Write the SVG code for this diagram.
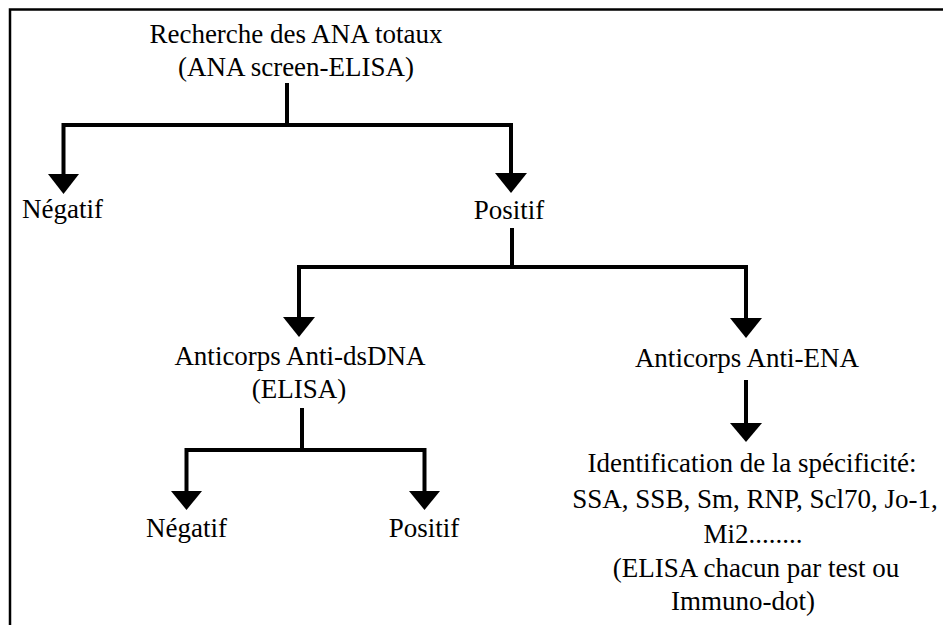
<svg xmlns="http://www.w3.org/2000/svg" width="943" height="625" viewBox="0 0 943 625">
<style>
  text { font-family: "Liberation Serif", "Times New Roman", serif; font-size: 27px; fill: #000; text-anchor: middle; }
  .ln { fill: none; stroke: #000; stroke-width: 4; stroke-linecap: butt; stroke-linejoin: miter; }
  .hd { fill: #000; stroke: none; }
  .frame { fill: none; stroke: #000; stroke-width: 2.5; }
</style>
<rect x="0" y="0" width="943" height="625" fill="#fff"/>
<path class="frame" d="M10,625 V9.5 H943"/>

<g id="connectors">
  <path class="ln" d="M287,83 V125"/>
  <path class="ln" d="M63.5,176 V125 H511 V175"/>
  <polygon class="hd" points="48,174 79,174 63.5,194"/>
  <polygon class="hd" points="495,173 527,173 511,193"/>

  <path class="ln" d="M512,228 V267"/>
  <path class="ln" d="M299,319 V267 H746 V320"/>
  <polygon class="hd" points="283,317 315,317 299,337"/>
  <polygon class="hd" points="730,318 762,318 746,338"/>

  <path class="ln" d="M302,408 V450"/>
  <path class="ln" d="M186.5,493 V450 H424.5 V493"/>
  <polygon class="hd" points="171,491 202,491 186.5,510"/>
  <polygon class="hd" points="409,491 440,491 424.5,510"/>

  <path class="ln" d="M746,380 V425"/>
  <polygon class="hd" points="730,423 762,423 746,442"/>
</g>

<g id="node-ana-totaux">
  <text x="296" y="43">Recherche des ANA totaux</text>
  <text x="296" y="76">(ANA screen-ELISA)</text>
</g>
<g id="node-negatif-1">
  <text x="62.5" y="218">Négatif</text>
</g>
<g id="node-positif-1">
  <text x="509" y="219">Positif</text>
</g>
<g id="node-anti-dsdna">
  <text x="300" y="365">Anticorps Anti-dsDNA</text>
  <text x="299" y="398">(ELISA)</text>
</g>
<g id="node-anti-ena">
  <text x="747" y="367">Anticorps Anti-ENA</text>
</g>
<g id="node-negatif-2">
  <text x="186.5" y="537">Négatif</text>
</g>
<g id="node-positif-2">
  <text x="424" y="537">Positif</text>
</g>
<g id="node-identification">
  <text x="752" y="472">Identification de la spécificité:</text>
  <text x="755" y="508">SSA, SSB, Sm, RNP, Scl70, Jo-1,</text>
  <text x="753" y="543">Mi2........</text>
  <text x="756" y="577">(ELISA chacun par test ou</text>
  <text x="743" y="610">Immuno-dot)</text>
</g>
</svg>
